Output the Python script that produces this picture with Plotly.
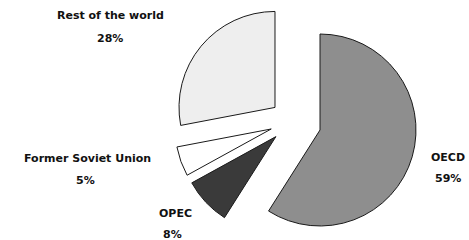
import plotly.graph_objects as go

# ---- data ----
regions = ["OECD", "OPEC", "Former Soviet Union", "Rest of the world"]
shares = [59, 8, 5, 28]  # percent

# ---- styles ----
colors = ["#8e8e8e", "#3a3a3a", "#ffffff", "#eeeeee"]
W, H = 469, 240
R = 96  # pie radius in px
CLEAR = "rgba(0,0,0,0)"
LINE = "#1a1a1a"


def clamp(v):
    return min(1.0, max(0.0, v))


def px_domain(cx, cy, half):
    return dict(x=[clamp((cx - half) / W), clamp((cx + half) / W)],
                y=[clamp(1 - (cy + half) / H), clamp(1 - (cy - half) / H)])


# exploded main slice (OECD) drawn on its own, the rest of the pie hidden
main_only = [i == 0 for i in range(len(regions))]
fig = go.Figure()
fig.add_trace(go.Pie(
    labels=regions, values=shares, sort=False, direction="clockwise", rotation=0,
    marker=dict(colors=[c if m else CLEAR for c, m in zip(colors, main_only)],
                line=dict(color=LINE, width=[1 if m else 0 for m in main_only])),
    textinfo="none", hoverinfo="skip", showlegend=False,
    domain=px_domain(320, 130, R),
))
# remaining slices, slightly pulled out from their common centre
pull_small = 0.23
fig.add_trace(go.Pie(
    labels=regions, values=shares, sort=False, direction="clockwise", rotation=0,
    pull=[0 if m else pull_small for m in main_only],
    marker=dict(colors=[CLEAR if m else c for c, m in zip(colors, main_only)],
                line=dict(color=LINE, width=[0 if m else 1 for m in main_only])),
    textinfo="none", hoverinfo="skip", showlegend=False,
    domain=px_domain(292, 121.5, R * (1 + pull_small)),
))

# label positions (px): name centre, percent centre
label_pos = {
    "OECD": ((448, 157), (448, 178)),
    "OPEC": ((175, 213), (172, 234)),
    "Former Soviet Union": ((87, 158), (85, 180)),
    "Rest of the world": ((110, 16), (110, 38)),
}
font = dict(family="DejaVu Sans", size=11, color="#111111")
anns = []
for name, val in zip(regions, shares):
    (nx, ny), (px, py) = label_pos[name]
    anns.append(dict(text=f"<b>{name}</b>", x=nx / W, y=1 - ny / H, xref="paper", yref="paper",
                     xanchor="center", yanchor="middle", showarrow=False, font=font))
    anns.append(dict(text=f"<b>{val}%</b>", x=px / W, y=1 - py / H, xref="paper", yref="paper",
                     xanchor="center", yanchor="middle", showarrow=False, font=font))

fig.update_layout(
    width=W, height=H,
    margin=dict(l=0, r=0, t=0, b=0),
    paper_bgcolor="white", plot_bgcolor="white",
    annotations=anns,
)
fig.write_html("out.html", config={"displayModeBar": False},
               post_script="document.body.style.margin='0';document.body.style.overflow='hidden';")
